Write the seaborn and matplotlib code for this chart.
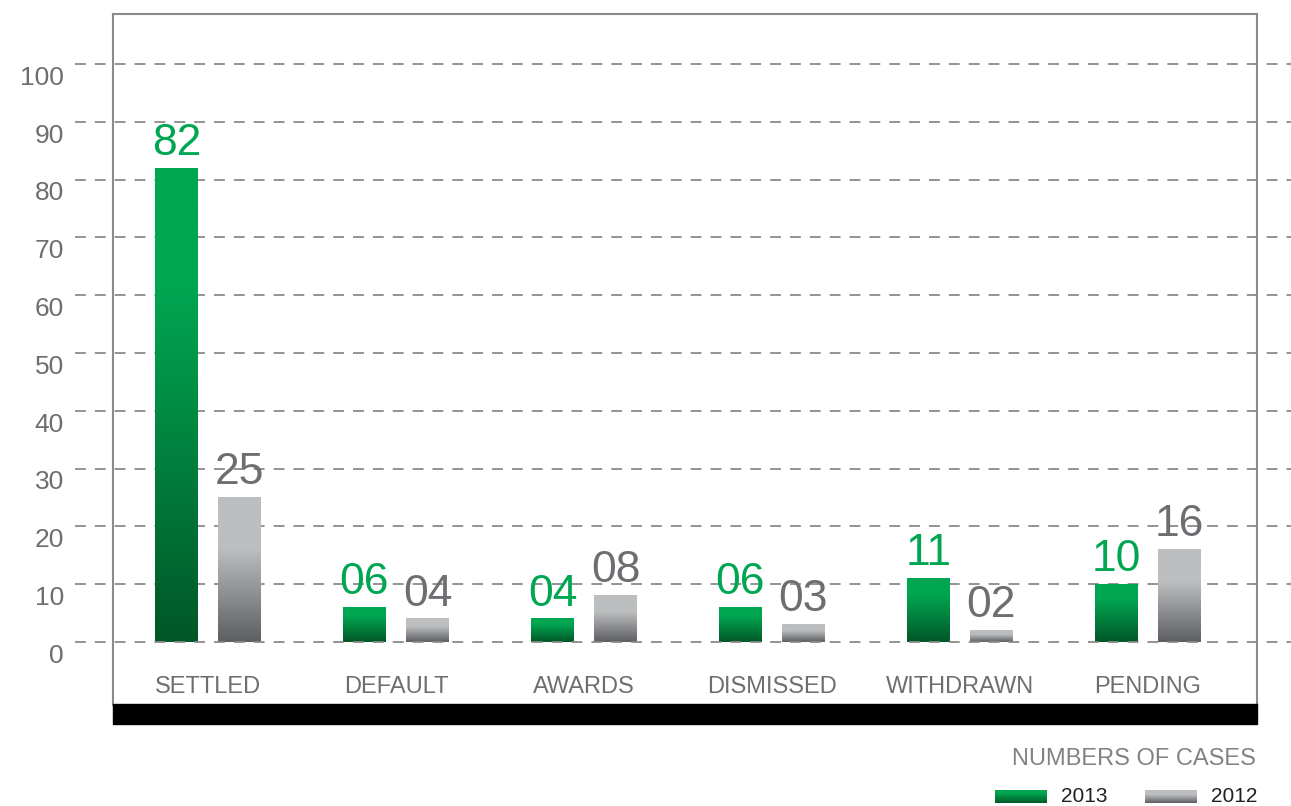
import numpy as np
import pandas as pd
import seaborn as sns
import matplotlib.pyplot as plt
from matplotlib.colors import LinearSegmentedColormap
from matplotlib.patches import Rectangle
from matplotlib.transforms import blended_transform_factory

categories = ['SETTLED', 'DEFAULT', 'AWARDS', 'DISMISSED', 'WITHDRAWN', 'PENDING']
cases_2013 = [82, 6, 4, 6, 11, 10]
cases_2012 = [25, 4, 8, 3, 2, 16]
labels_2013 = ['82', '06', '04', '06', '11', '10']
labels_2012 = ['25', '04', '08', '03', '02', '16']
years = ['2013', '2012']
yticks = list(range(0, 101, 10))

df = pd.DataFrame({
    'category': categories * 2,
    'year': ['2013'] * 6 + ['2012'] * 6,
    'cases': cases_2013 + cases_2012,
})

sns.set_style('white')
plt.rcParams['font.family'] = ['Liberation Sans', 'DejaVu Sans']

green = '#00a651'
gray_txt = '#6d6e71'
green_cm = LinearSegmentedColormap.from_list('g', [(0, '#005727'), (0.75, '#00a651'), (1, '#00a651')])
gray_cm = LinearSegmentedColormap.from_list('k', [(0, '#5d5e61'), (0.65, '#bcbec0'), (1, '#bcbec0')])

fig = plt.figure(figsize=(12.91, 8.06), dpi=100)
ax = fig.add_axes([113 / 1291, 1 - 705 / 806, 1144 / 1291, 691 / 806])

sns.barplot(data=df, x='category', y='cases', hue='year', hue_order=years,
            palette=[green, '#bcbec0'], saturation=1, width=0.67, gap=0.32,
            ax=ax, legend=False, zorder=2)

# gradient fill for bars (containers follow hue order)
grad = np.linspace(0, 1, 256).reshape(-1, 1)
for cont, cm in zip(ax.containers, [green_cm, gray_cm]):
    for p in cont:
        x, w, h = p.get_x(), p.get_width(), p.get_height()
        ax.imshow(grad, extent=[x, x + w, 0, h], origin='lower', cmap=cm,
                  aspect='auto', zorder=2, interpolation='bicubic')
        p.set_visible(False)

ax.set_xlim(-0.505, 5.58)
ax.set_ylim(-10.9, 108.65)

# dashed grid lines, running past the frame
for t in yticks:
    ax.axhline(t, xmin=-0.033, xmax=1.03, color='#8a8a8a', lw=1.3,
               ls=(0, (6, 5)), clip_on=False, zorder=3 if t == 0 else 1)

# y labels sit a little below their lines
trans = blended_transform_factory(ax.transAxes, ax.transData)
for t in yticks:
    ax.text(-0.043, t - 2.4, str(t), transform=trans, ha='right', va='center',
            fontsize=19, color=gray_txt, clip_on=False)

# value labels + category names
off = 0.1676
for i in range(len(categories)):
    ax.text(i - off, cases_2013[i] + 2.3, labels_2013[i], ha='center',
            va='baseline', fontsize=32, color=green)
    ax.text(i + off, cases_2012[i] + 2.3, labels_2012[i], ha='center',
            va='baseline', fontsize=32, color=gray_txt)
    ax.text(i, -8.8, categories[i], ha='center', va='baseline', fontsize=17,
            color=gray_txt)

ax.set_xticks([])
ax.set_yticks([])
ax.set_xlabel('')
ax.set_ylabel('')
for s in ['top', 'left', 'right']:
    ax.spines[s].set_color('#8a8a8a')
    ax.spines[s].set_linewidth(1.5)
ax.spines['bottom'].set_visible(False)

# black base strip
fig.add_artist(Rectangle((113 / 1291, 1 - 724 / 806), 1144 / 1291, 20 / 806,
                         transform=fig.transFigure, color='black'))

# legend
fig.text(1256 / 1291, 1 - 765 / 806, 'NUMBERS OF CASES', ha='right',
         va='baseline', fontsize=17, color='#808285')
for cm, x0, yr, xt in [(green_cm, 995, '2013', 1108), (gray_cm, 1145, '2012', 1257)]:
    lax = fig.add_axes([x0 / 1291, 1 - 803 / 806, 52 / 1291, 13 / 806])
    lax.imshow(grad, origin='lower', cmap=cm, aspect='auto', extent=[0, 1, 0, 1])
    lax.set_axis_off()
    fig.text(xt / 1291, 1 - 802 / 806, yr, ha='right', va='baseline',
             fontsize=15, color='#231f20')

fig.savefig('out.png', dpi=100)
